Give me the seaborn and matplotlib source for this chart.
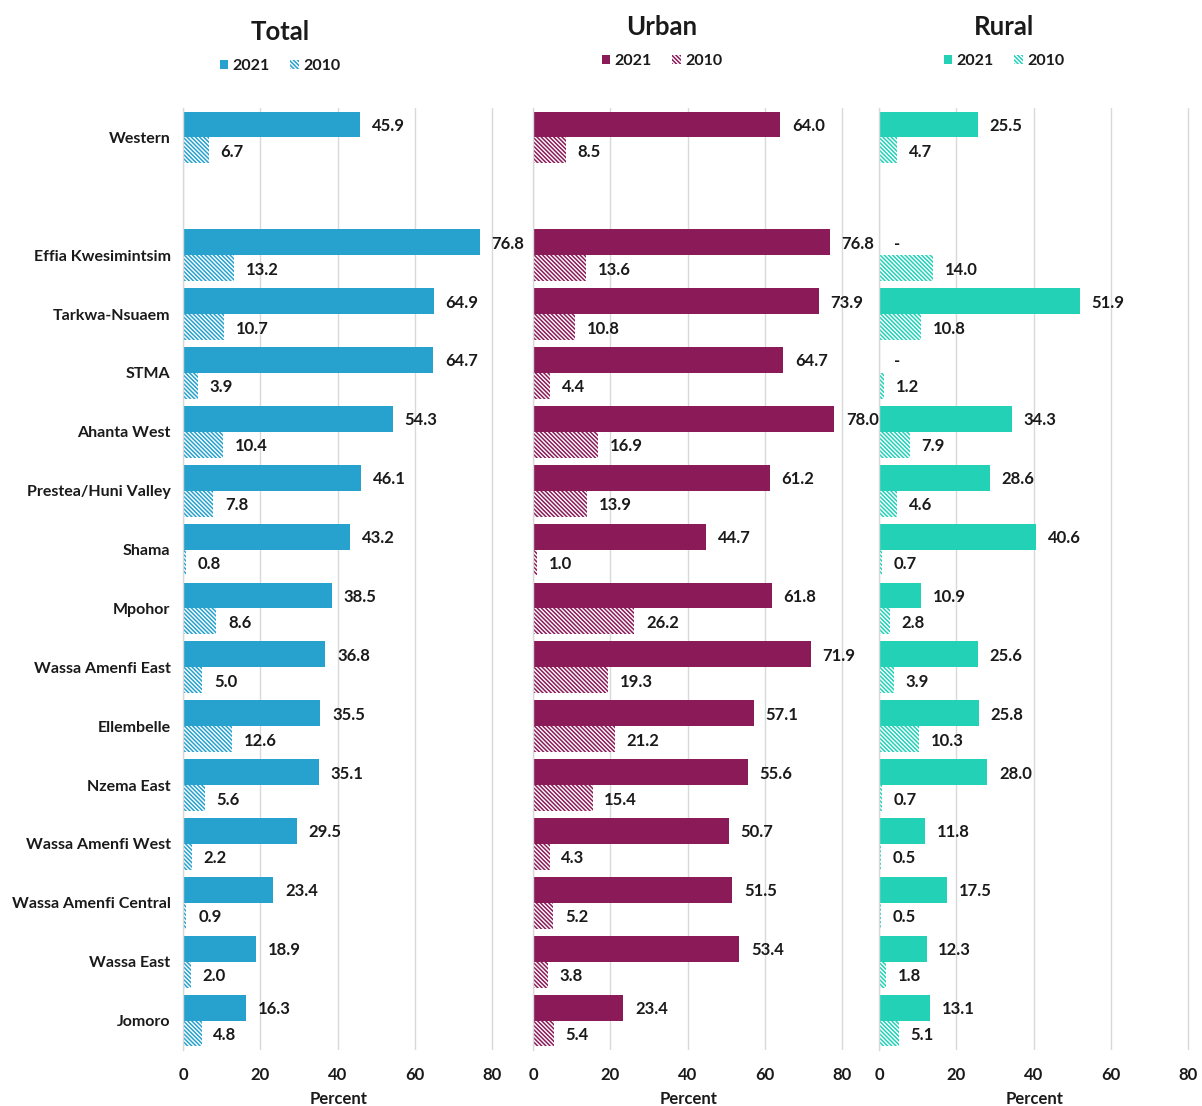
import numpy as np
import pandas as pd
import matplotlib
matplotlib.use("Agg")
import matplotlib.pyplot as plt
from matplotlib.patches import Patch
import seaborn as sns

districts = ["Western", "Effia Kwesimintsim", "Tarkwa-Nsuaem", "STMA", "Ahanta West",
             "Prestea/Huni Valley", "Shama", "Mpohor", "Wassa Amenfi East", "Ellembelle",
             "Nzema East", "Wassa Amenfi West", "Wassa Amenfi Central", "Wassa East", "Jomoro"]

total_2021 = [45.9, 76.8, 64.9, 64.7, 54.3, 46.1, 43.2, 38.5, 36.8, 35.5, 35.1, 29.5, 23.4, 18.9, 16.3]
total_2010 = [6.7, 13.2, 10.7, 3.9, 10.4, 7.8, 0.8, 8.6, 5.0, 12.6, 5.6, 2.2, 0.9, 2.0, 4.8]
urban_2021 = [64.0, 76.8, 73.9, 64.7, 78.0, 61.2, 44.7, 61.8, 71.9, 57.1, 55.6, 50.7, 51.5, 53.4, 23.4]
urban_2010 = [8.5, 13.6, 10.8, 4.4, 16.9, 13.9, 1.0, 26.2, 19.3, 21.2, 15.4, 4.3, 5.2, 3.8, 5.4]
rural_2021 = [25.5, np.nan, 51.9, np.nan, 34.3, 28.6, 40.6, 10.9, 25.6, 25.8, 28.0, 11.8, 17.5, 12.3, 13.1]
rural_2010 = [4.7, 14.0, 10.8, 1.2, 7.9, 4.6, 0.7, 2.8, 3.9, 10.3, 0.7, 0.5, 0.5, 1.8, 5.1]

years = ["2021", "2010"]
panel_titles = ["Total", "Urban", "Rural"]
panel_colors = ["#27A1CE", "#8A1A58", "#23D1B7"]
x_ticks = [0, 20, 40, 60, 80]

# Row order with a blank spacer row between the region and its districts
spacer = " "
row_order = [districts[0], spacer] + districts[1:]

sns.set_style("white")
plt.rcParams["font.family"] = ["Lato", "DejaVu Sans"]
plt.rcParams["font.weight"] = "bold"
plt.rcParams["hatch.linewidth"] = 1.1
TEXT = "#1a1a1a"
FS = 11.5
VFS = 12

def long_frame(v2021, v2010):
    df = pd.DataFrame({
        "district": districts * 2,
        "year": ["2021"] * len(districts) + ["2010"] * len(districts),
        "value": list(v2021) + list(v2010),
    })
    return df

panels = [long_frame(total_2021, total_2010),
          long_frame(urban_2021, urban_2010),
          long_frame(rural_2021, rural_2010)]

W, H = 1202, 1106
fig = plt.figure(figsize=(W / 100, H / 100), dpi=100)
lefts = [183, 533, 879]
top, bottom = 108, 1050
unit = 77.3 / 20
xmax = 80.5
HATCH = "\\\\\\\\\\\\\\\\"

for k, (df, title, color, left) in enumerate(zip(panels, panel_titles, panel_colors, lefts)):
    ax = fig.add_axes([left / W, 1 - bottom / H, xmax * unit / W, (bottom - top) / H])
    plot_df = df.dropna(subset=["value"])
    sns.barplot(data=plot_df, y="district", x="value", hue="year", hue_order=years,
                order=row_order, palette=[color, "white"], orient="h", width=0.88,
                errorbar=None, ax=ax, legend=False)
    c2021, c2010 = ax.containers[0], ax.containers[1]
    for p in c2021:
        p.set_facecolor(color)
        p.set_edgecolor(color)
        p.set_linewidth(0)
    for p in c2010:
        p.set_facecolor("white")
        p.set_edgecolor(color)
        p.set_hatch(HATCH)
        p.set_linewidth(0)
    for cont in (c2021, c2010):
        labels = ax.bar_label(cont, fmt="%.1f", padding=8.5, fontsize=VFS,
                              fontweight="bold", color=TEXT)
        for t in labels:
            t.set_va("center_baseline")

    # Missing 2021 values are marked with a dash
    missing = df[(df["year"] == "2021") & df["value"].isna()]["district"]
    for d in missing:
        yi = row_order.index(d) - 0.22
        ax.annotate("-", (0, yi), xytext=(15, 0), textcoords="offset pixels",
                    ha="left", va="center_baseline", fontsize=VFS, fontweight="bold", color=TEXT)

    ax.set_xlim(0, xmax)
    ax.set_ylim(len(row_order) - 0.5, -0.5)
    ax.set_xticks(x_ticks)
    ax.set_xticklabels([str(t) for t in x_ticks], fontsize=VFS, fontweight="bold", color=TEXT)
    ax.xaxis.grid(True, color="#D9D9D9", linewidth=1)
    ax.yaxis.grid(False)
    ax.set_axisbelow(True)
    ax.tick_params(axis="x", length=0, pad=12)
    ax.tick_params(axis="y", length=0)
    ax.set_xlabel("Percent", fontsize=VFS, fontweight="bold", color=TEXT, labelpad=6)
    ax.set_ylabel("")
    for side in ["top", "right", "bottom"]:
        ax.spines[side].set_visible(False)
    ax.spines["left"].set_color("#D9D9D9")
    ax.spines["left"].set_linewidth(1)
    if k == 0:
        ax.set_yticks(range(len(row_order)))
        ax.set_yticklabels(row_order, fontsize=FS, fontweight="bold", color=TEXT)
        ax.tick_params(axis="y", pad=9)
    else:
        ax.set_yticks([])

title_x = [280, 662, 1004]
title_y = [32, 27, 27]
legend_y = [66, 61, 61]
for title, color, tx, ty, ly in zip(panel_titles, panel_colors, title_x, title_y, legend_y):
    fig.text(tx / W, 1 - ty / H, title, ha="center", va="center",
             fontsize=18.5, fontweight="bold", color=TEXT)
    handles = [Patch(facecolor=color, edgecolor=color, linewidth=0),
               Patch(facecolor="white", edgecolor=color, hatch=HATCH, linewidth=0)]
    fig.legend(handles, years, loc="center", bbox_to_anchor=(tx / W, 1 - ly / H),
               ncol=2, frameon=False, handlelength=0.55, handleheight=0.55,
               handletextpad=0.25, columnspacing=1.3,
               prop={"size": FS, "weight": "bold"}, labelcolor=TEXT)

fig.savefig("out.png", dpi=100)
